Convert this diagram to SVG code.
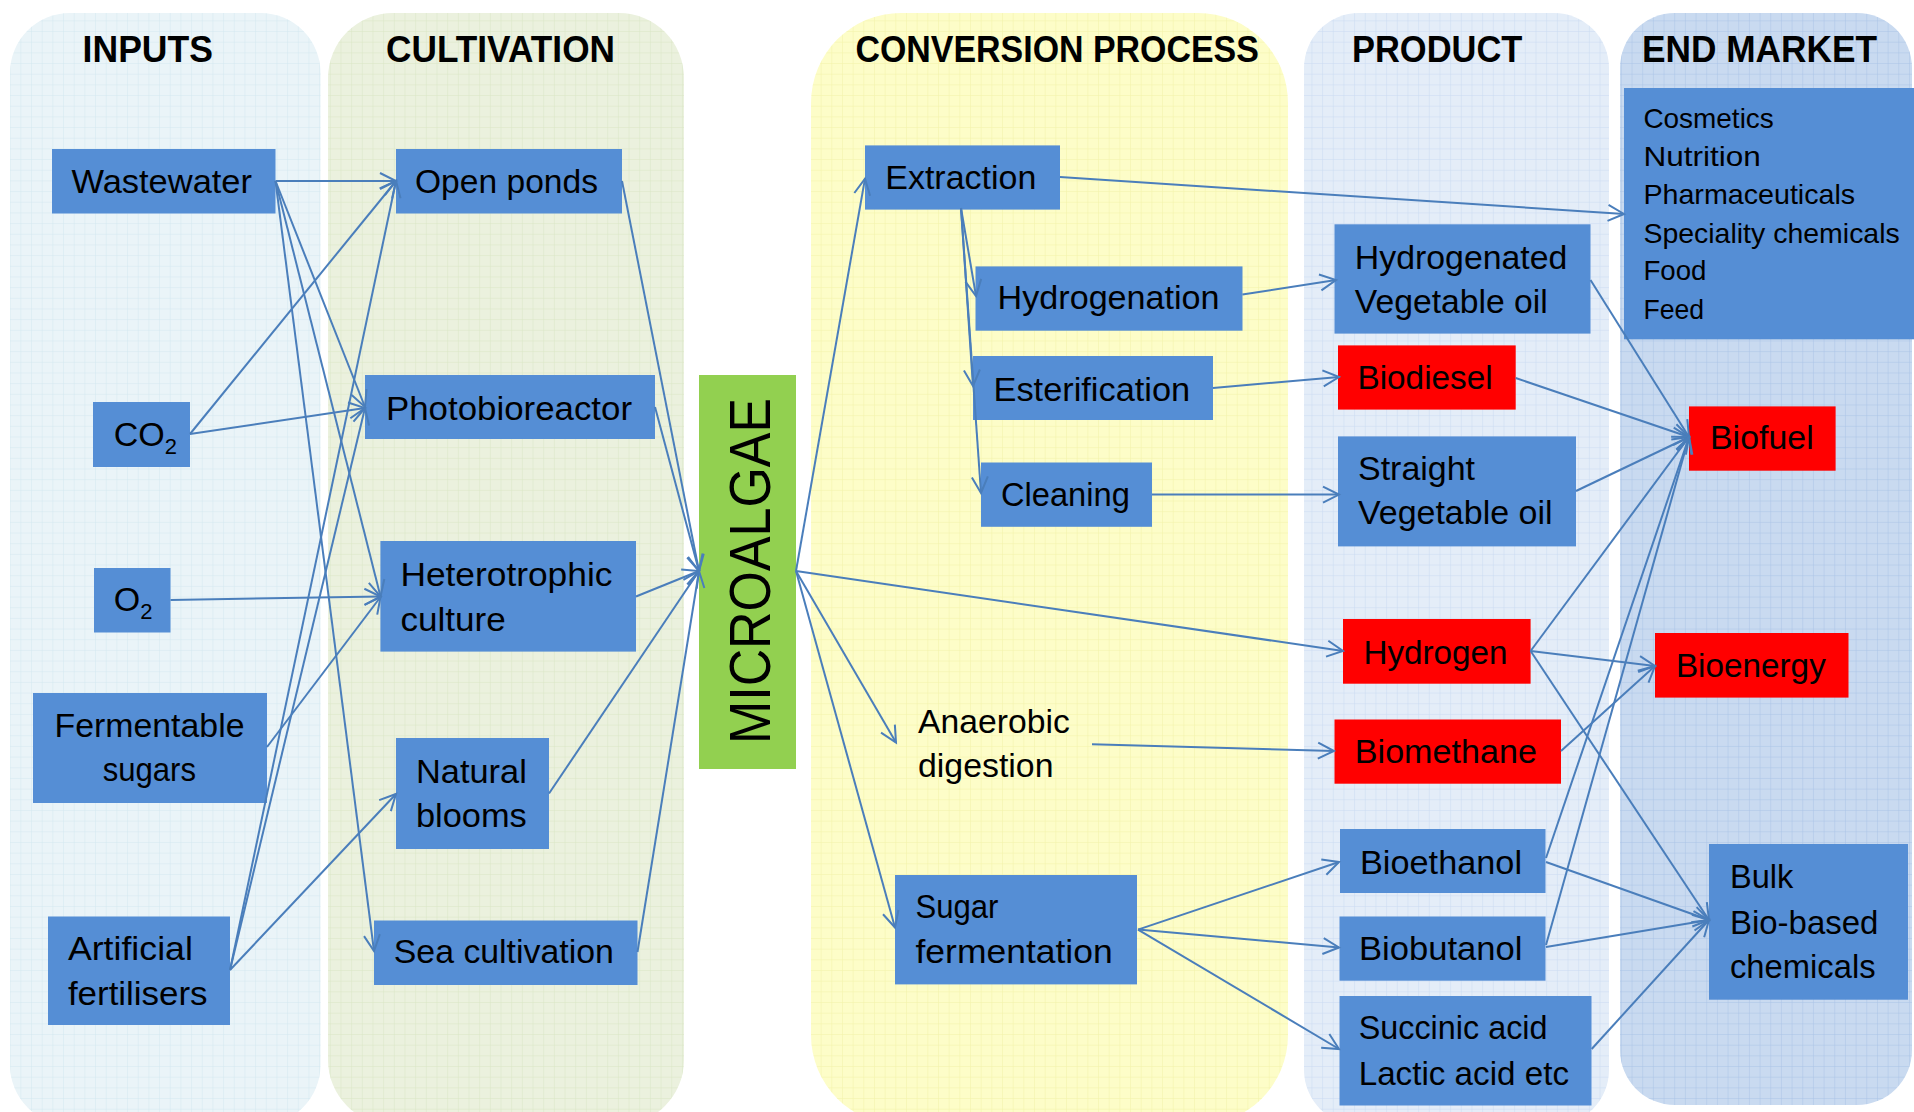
<svg xmlns="http://www.w3.org/2000/svg" width="1914" height="1112" viewBox="0 0 1914 1112">
<defs>
<pattern id="g1" width="10.67" height="10.67" patternUnits="userSpaceOnUse"><path d="M10.67 0V10.67M0 10.67H10.67" stroke="#d3e7f0" stroke-width="1" fill="none"/></pattern>
<pattern id="g2" width="10.67" height="10.67" patternUnits="userSpaceOnUse"><path d="M10.67 0V10.67M0 10.67H10.67" stroke="#d9e6c4" stroke-width="1" fill="none"/></pattern>
<pattern id="g3" width="10.67" height="10.67" patternUnits="userSpaceOnUse"><path d="M10.67 0V10.67M0 10.67H10.67" stroke="#f2f2a8" stroke-width="1" fill="none"/></pattern>
<pattern id="g4" width="10.67" height="10.67" patternUnits="userSpaceOnUse"><path d="M10.67 0V10.67M0 10.67H10.67" stroke="#c9daf1" stroke-width="1" fill="none"/></pattern>
<pattern id="g5" width="10.67" height="10.67" patternUnits="userSpaceOnUse"><path d="M10.67 0V10.67M0 10.67H10.67" stroke="#a9c3e6" stroke-width="1" fill="none"/></pattern>
<marker id="ah" markerUnits="userSpaceOnUse" markerWidth="20" markerHeight="20" refX="17" refY="9" orient="auto" overflow="visible"><path d="M1,1 L17,9 L1,17" fill="none" stroke="#4A7EBB" stroke-width="2"/></marker>
</defs>
<style>
.t{font-family:"Liberation Sans",Arial,sans-serif;font-size:34px;fill:#000}
.h{font-family:"Liberation Sans",Arial,sans-serif;font-size:36px;font-weight:bold;fill:#000}
.s{font-size:28px}
.m{font-size:57px}
.b{fill:#558ED5}
.r{fill:#FF0000}
.c line{stroke:#4A7EBB;stroke-width:2;marker-end:url(#ah)}
</style>
<rect width="1914" height="1112" fill="#ffffff"/>
<g id="panels">
<g id="panel-inputs"><rect x="10" y="13" width="310.5" height="1112" rx="60" fill="#eaf4f8"/><rect x="10" y="13" width="310.5" height="1112" rx="60" fill="url(#g1)"/>
<text class="h" x="82.6" y="61.5" textLength="130.4" lengthAdjust="spacingAndGlyphs">INPUTS</text></g>
<g id="panel-cultivation"><rect x="328" y="13" width="356" height="1112" rx="65" fill="#ebf1de"/><rect x="328" y="13" width="356" height="1112" rx="65" fill="url(#g2)"/>
<text class="h" x="386" y="61.5" textLength="229" lengthAdjust="spacingAndGlyphs">CULTIVATION</text></g>
<g id="panel-conversion"><rect x="811" y="13" width="477" height="1112" rx="90" fill="#fdfdc8"/><rect x="811" y="13" width="477" height="1112" rx="90" fill="url(#g3)"/>
<text class="h" x="855.5" y="61.5" textLength="403.3" lengthAdjust="spacingAndGlyphs">CONVERSION PROCESS</text></g>
<g id="panel-product"><rect x="1304" y="13" width="305" height="1112" rx="55" fill="#e4edf8"/><rect x="1304" y="13" width="305" height="1112" rx="55" fill="url(#g4)"/>
<text class="h" x="1352" y="61.5" textLength="170.4" lengthAdjust="spacingAndGlyphs">PRODUCT</text></g>
<g id="panel-endmarket"><rect x="1620" y="13" width="292" height="1092" rx="55" fill="#c9daf0"/><rect x="1620" y="13" width="292" height="1092" rx="55" fill="url(#g5)"/>
<text class="h" x="1642" y="61.5" textLength="235" lengthAdjust="spacingAndGlyphs">END MARKET</text></g>
</g>
<g id="nodes">
<g id="wastewater"><rect class="b" x="52" y="149" width="223.5" height="64.5"/><text class="t" x="71.4" y="193" textLength="180.6" lengthAdjust="spacingAndGlyphs">Wastewater</text></g>
<g id="co2"><rect class="b" x="93" y="402" width="97" height="65"/><text class="t" x="113.8" y="446">CO<tspan font-size="22" dy="8">2</tspan></text></g>
<g id="o2"><rect class="b" x="94" y="568" width="76.5" height="64.5"/><text class="t" x="113.8" y="611">O<tspan font-size="22" dy="8">2</tspan></text></g>
<g id="fermentable-sugars"><rect class="b" x="33" y="693" width="234" height="110"/><text class="t" x="54.5" y="737" textLength="190" lengthAdjust="spacingAndGlyphs">Fermentable</text><text class="t" x="102.7" y="781" textLength="93.3" lengthAdjust="spacingAndGlyphs">sugars</text></g>
<g id="artificial-fertilisers"><rect class="b" x="48" y="916.5" width="182" height="108.5"/><text class="t" x="67.9" y="959.5" textLength="125" lengthAdjust="spacingAndGlyphs">Artificial</text><text class="t" x="67.9" y="1005" textLength="139.7" lengthAdjust="spacingAndGlyphs">fertilisers</text></g>
<g id="open-ponds"><rect class="b" x="396" y="149" width="226" height="64.5"/><text class="t" x="415" y="193" textLength="183" lengthAdjust="spacingAndGlyphs">Open ponds</text></g>
<g id="photobioreactor"><rect class="b" x="365" y="375" width="290" height="64"/><text class="t" x="386" y="419.6" textLength="246" lengthAdjust="spacingAndGlyphs">Photobioreactor</text></g>
<g id="heterotrophic-culture"><rect class="b" x="380.4" y="541" width="255.6" height="110.6"/><text class="t" x="400.4" y="585.6" textLength="212" lengthAdjust="spacingAndGlyphs">Heterotrophic</text><text class="t" x="400.4" y="630.5" textLength="105.4" lengthAdjust="spacingAndGlyphs">culture</text></g>
<g id="natural-blooms"><rect class="b" x="396" y="738" width="153" height="111"/><text class="t" x="416" y="782.6" textLength="110.8" lengthAdjust="spacingAndGlyphs">Natural</text><text class="t" x="416" y="827" textLength="110.8" lengthAdjust="spacingAndGlyphs">blooms</text></g>
<g id="sea-cultivation"><rect class="b" x="374" y="920.5" width="263.5" height="64.5"/><text class="t" x="393.8" y="963" textLength="220" lengthAdjust="spacingAndGlyphs">Sea cultivation</text></g>
<g id="microalgae"><rect x="699" y="375" width="97" height="394" fill="#92D050"/><text class="t m" x="769.5" y="571" text-anchor="middle" transform="rotate(-90 769.5 571)" textLength="346" lengthAdjust="spacingAndGlyphs">MICROALGAE</text></g>
<g id="extraction"><rect class="b" x="865" y="145.4" width="195" height="64.2"/><text class="t" x="885.3" y="188.6" textLength="151" lengthAdjust="spacingAndGlyphs">Extraction</text></g>
<g id="hydrogenation"><rect class="b" x="975.5" y="266.4" width="267" height="64.3"/><text class="t" x="997.6" y="309" textLength="222" lengthAdjust="spacingAndGlyphs">Hydrogenation</text></g>
<g id="esterification"><rect class="b" x="973" y="356" width="240" height="64"/><text class="t" x="993.5" y="400.7" textLength="196.7" lengthAdjust="spacingAndGlyphs">Esterification</text></g>
<g id="cleaning"><rect class="b" x="981" y="462.5" width="171" height="64.3"/><text class="t" x="1001" y="506" textLength="128.8" lengthAdjust="spacingAndGlyphs">Cleaning</text></g>
<g id="anaerobic-digestion"><text class="t" x="918" y="733.4" textLength="151.8" lengthAdjust="spacingAndGlyphs">Anaerobic</text><text class="t" x="918" y="777" textLength="135.5" lengthAdjust="spacingAndGlyphs">digestion</text></g>
<g id="sugar-fermentation"><rect class="b" x="895" y="875" width="242" height="109.4"/><text class="t" x="915.5" y="917.6" textLength="82.9" lengthAdjust="spacingAndGlyphs">Sugar</text><text class="t" x="915.5" y="963" textLength="197.2" lengthAdjust="spacingAndGlyphs">fermentation</text></g>
<g id="hydrogenated-vegetable-oil"><rect class="b" x="1334.5" y="224.3" width="256" height="109.3"/><text class="t" x="1354.8" y="268.6" textLength="212.6" lengthAdjust="spacingAndGlyphs">Hydrogenated</text><text class="t" x="1354.8" y="313" textLength="193" lengthAdjust="spacingAndGlyphs">Vegetable oil</text></g>
<g id="biodiesel"><rect class="r" x="1338" y="345.4" width="177.7" height="64.2"/><text class="t" x="1357.5" y="389" textLength="135.1" lengthAdjust="spacingAndGlyphs">Biodiesel</text></g>
<g id="straight-vegetable-oil"><rect class="b" x="1338" y="436.4" width="238" height="110"/><text class="t" x="1358" y="479.6" textLength="117" lengthAdjust="spacingAndGlyphs">Straight</text><text class="t" x="1358" y="524.3" textLength="194.5" lengthAdjust="spacingAndGlyphs">Vegetable oil</text></g>
<g id="hydrogen"><rect class="r" x="1343" y="619" width="187.6" height="64.7"/><text class="t" x="1363.4" y="664" textLength="144.1" lengthAdjust="spacingAndGlyphs">Hydrogen</text></g>
<g id="biomethane"><rect class="r" x="1334.5" y="719.5" width="226.5" height="64.2"/><text class="t" x="1354.8" y="763" textLength="182.1" lengthAdjust="spacingAndGlyphs">Biomethane</text></g>
<g id="bioethanol"><rect class="b" x="1340" y="829" width="205.5" height="64"/><text class="t" x="1360" y="873.8" textLength="162" lengthAdjust="spacingAndGlyphs">Bioethanol</text></g>
<g id="biobutanol"><rect class="b" x="1339.5" y="916.5" width="206" height="64.2"/><text class="t" x="1359" y="959.6" textLength="163.4" lengthAdjust="spacingAndGlyphs">Biobutanol</text></g>
<g id="succinic-lactic-acid"><rect class="b" x="1339.5" y="996" width="252" height="109.5"/><text class="t" x="1358.7" y="1039" textLength="188.8" lengthAdjust="spacingAndGlyphs">Succinic acid</text><text class="t" x="1358.7" y="1084.7" textLength="210.3" lengthAdjust="spacingAndGlyphs">Lactic acid etc</text></g>
<g id="cosmetics-etc"><rect class="b" x="1624" y="88" width="290" height="251.3"/>
<text class="t s" x="1643.4" y="127.5" textLength="130.4" lengthAdjust="spacingAndGlyphs">Cosmetics</text>
<text class="t s" x="1643.4" y="166" textLength="117.4" lengthAdjust="spacingAndGlyphs">Nutrition</text>
<text class="t s" x="1643.4" y="204.3" textLength="211.8" lengthAdjust="spacingAndGlyphs">Pharmaceuticals</text>
<text class="t s" x="1643.4" y="242.9" textLength="256.4" lengthAdjust="spacingAndGlyphs">Speciality chemicals</text>
<text class="t s" x="1643.4" y="280.4" textLength="63" lengthAdjust="spacingAndGlyphs">Food</text>
<text class="t s" x="1643.4" y="319" textLength="60.6" lengthAdjust="spacingAndGlyphs">Feed</text></g>
<g id="biofuel"><rect class="r" x="1689" y="406.4" width="146.6" height="64.3"/><text class="t" x="1710" y="449.3" textLength="103.7" lengthAdjust="spacingAndGlyphs">Biofuel</text></g>
<g id="bioenergy"><rect class="r" x="1655" y="633" width="193.5" height="64.6"/><text class="t" x="1675.9" y="676.8" textLength="149.9" lengthAdjust="spacingAndGlyphs">Bioenergy</text></g>
<g id="bulk-biobased-chemicals"><rect class="b" x="1709" y="844" width="199" height="155.7"/><text class="t" x="1730" y="888.4" textLength="63.3" lengthAdjust="spacingAndGlyphs">Bulk</text><text class="t" x="1730" y="934" textLength="148.3" lengthAdjust="spacingAndGlyphs">Bio-based</text><text class="t" x="1730" y="977.8" textLength="145.6" lengthAdjust="spacingAndGlyphs">chemicals</text></g>
</g>
<g id="connectors" class="c">
<line x1="275.5" y1="181" x2="396" y2="181"/>
<line x1="275.5" y1="181" x2="365" y2="407"/>
<line x1="275.5" y1="181" x2="380.5" y2="596.5"/>
<line x1="275.5" y1="181" x2="374" y2="951"/>
<line x1="190" y1="434" x2="396" y2="181"/>
<line x1="190" y1="434" x2="365" y2="408"/>
<line x1="170.5" y1="600" x2="380.5" y2="596.5"/>
<line x1="267" y1="747" x2="380.5" y2="597"/>
<line x1="230" y1="970" x2="396" y2="181"/>
<line x1="230" y1="970" x2="365" y2="408"/>
<line x1="230" y1="970" x2="396" y2="794"/>
<line x1="622" y1="181" x2="699" y2="571"/>
<line x1="655" y1="407" x2="699" y2="571"/>
<line x1="636" y1="596.5" x2="699" y2="571"/>
<line x1="549" y1="793.5" x2="699" y2="571"/>
<line x1="637.5" y1="952" x2="699" y2="571"/>
<line x1="796" y1="571" x2="865" y2="178.6"/>
<line x1="796" y1="571" x2="1343" y2="651"/>
<line x1="796" y1="571" x2="896" y2="742.5"/>
<line x1="796" y1="571" x2="895" y2="927.5"/>
<line x1="961" y1="208" x2="976" y2="296"/>
<line x1="961" y1="208" x2="973" y2="386"/>
<line x1="961" y1="208" x2="981" y2="493"/>
<line x1="1060" y1="177" x2="1624" y2="214"/>
<line x1="1242.4" y1="294.6" x2="1336" y2="280"/>
<line x1="1213" y1="388" x2="1339" y2="377"/>
<line x1="1152" y1="494.6" x2="1339" y2="494.6"/>
<line x1="1092" y1="744.3" x2="1334" y2="751"/>
<line x1="1138" y1="929.6" x2="1339" y2="862"/>
<line x1="1138" y1="929.6" x2="1339" y2="947.5"/>
<line x1="1138" y1="929.6" x2="1339" y2="1049"/>
<line x1="1590.5" y1="280" x2="1689" y2="437"/>
<line x1="1515.7" y1="378" x2="1689" y2="437"/>
<line x1="1576" y1="491" x2="1689" y2="437"/>
<line x1="1530.6" y1="651" x2="1689" y2="437"/>
<line x1="1546" y1="858" x2="1689" y2="437"/>
<line x1="1546" y1="945" x2="1689" y2="437"/>
<line x1="1530.6" y1="651" x2="1655" y2="666"/>
<line x1="1561" y1="751" x2="1655" y2="666"/>
<line x1="1530.6" y1="651" x2="1709" y2="920"/>
<line x1="1546" y1="862" x2="1709" y2="920"/>
<line x1="1546" y1="947" x2="1709" y2="920"/>
<line x1="1591.7" y1="1049" x2="1709" y2="920"/>
</g>
</svg>
